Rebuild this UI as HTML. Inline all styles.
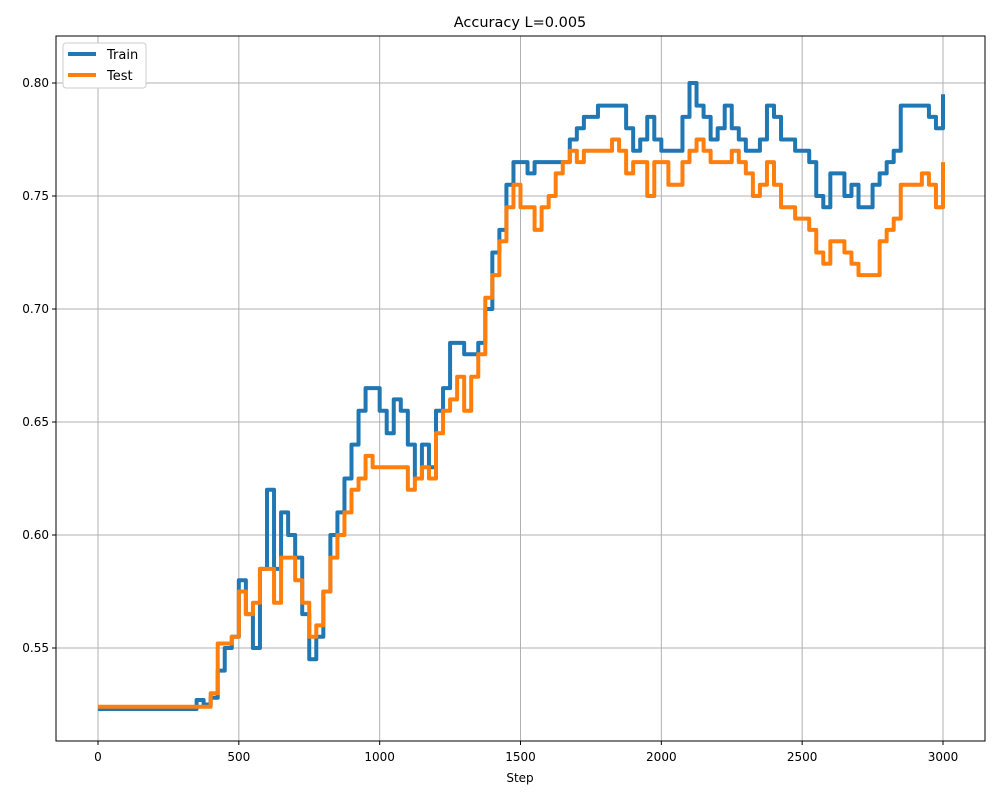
<!DOCTYPE html>
<html><head><meta charset="utf-8"><style>
body{margin:0;background:#fff;font-family:"Liberation Sans",sans-serif}
svg text{font-family:"DejaVu Sans","Liberation Sans",sans-serif}
</style></head><body>
<svg id="chart" width="1000" height="800" viewBox="0 0 1000 800" xmlns="http://www.w3.org/2000/svg">
<rect width="1000" height="800" fill="#fff"/>
<text x="520" y="27" font-size="14.5" text-anchor="middle">Accuracy L=0.005</text>
<g id="grid"></g>
<g id="series"></g>
<rect x="56" y="36" width="929" height="705" fill="none" stroke="#000" stroke-width="1"/>
<g id="ticks"></g>
<text x="520" y="782" font-size="12" text-anchor="middle">Step</text>
<g>
<rect x="63" y="43" width="83" height="45" fill="#fff" stroke="#ccc" rx="3"/>
<line x1="68" y1="54" x2="96" y2="54" stroke="#1f77b4" stroke-width="4"/>
<text x="107" y="59" font-size="13">Train</text>
<line x1="68" y1="75" x2="96" y2="75" stroke="#ff7f0e" stroke-width="4"/>
<text x="107" y="80" font-size="13">Test</text>
</g>
</svg>
<script>
const steps=[];for(let s=0;s<=3000;s+=25)steps.push(s);
const trainValues=[0.523,0.523,0.523,0.523,0.523,0.523,0.523,0.523,0.523,0.523,0.523,0.523,0.523,0.523,0.527,0.525,0.528,0.54,0.55,0.555,0.58,0.565,0.55,0.585,0.62,0.585,0.61,0.60,0.59,0.565,0.545,0.555,0.575,0.60,0.61,0.625,0.64,0.655,0.665,0.665,0.655,0.645,0.66,0.655,0.64,0.625,0.64,0.63,0.655,0.665,0.685,0.685,0.68,0.68,0.685,0.70,0.725,0.735,0.755,0.765,0.765,0.76,0.765,0.765,0.765,0.765,0.765,0.775,0.78,0.785,0.785,0.79,0.79,0.79,0.79,0.78,0.77,0.775,0.785,0.775,0.77,0.77,0.77,0.785,0.80,0.79,0.785,0.775,0.78,0.79,0.78,0.775,0.77,0.77,0.775,0.79,0.785,0.775,0.775,0.77,0.77,0.765,0.75,0.745,0.76,0.76,0.75,0.755,0.745,0.745,0.755,0.76,0.765,0.77,0.79,0.79,0.79,0.79,0.785,0.78,0.795];
const testValues=[0.524,0.524,0.524,0.524,0.524,0.524,0.524,0.524,0.524,0.524,0.524,0.524,0.524,0.524,0.524,0.524,0.53,0.552,0.552,0.555,0.575,0.565,0.57,0.585,0.585,0.57,0.59,0.59,0.58,0.57,0.555,0.56,0.575,0.59,0.60,0.61,0.62,0.625,0.635,0.63,0.63,0.63,0.63,0.63,0.62,0.625,0.63,0.625,0.645,0.655,0.66,0.67,0.655,0.67,0.68,0.705,0.715,0.73,0.745,0.755,0.745,0.745,0.735,0.745,0.75,0.76,0.765,0.77,0.765,0.77,0.77,0.77,0.77,0.775,0.77,0.76,0.765,0.765,0.75,0.765,0.765,0.755,0.755,0.765,0.77,0.775,0.77,0.765,0.765,0.765,0.77,0.765,0.76,0.75,0.755,0.765,0.755,0.745,0.745,0.74,0.74,0.735,0.725,0.72,0.73,0.73,0.725,0.72,0.715,0.715,0.715,0.73,0.735,0.74,0.755,0.755,0.755,0.76,0.755,0.745,0.765];
const xTicks=[0,500,1000,1500,2000,2500,3000];
const yTicks=[0.55,0.60,0.65,0.70,0.75,0.80];
const yTickLabels=["0.55","0.60","0.65","0.70","0.75","0.80"];
const X=v=>98+v*(845/3000);
const Y=v=>83+(0.80-v)*2260;
const NS="http://www.w3.org/2000/svg";
const grid=document.getElementById('grid'),ticks=document.getElementById('ticks'),ser=document.getElementById('series');
function mk(tag,attrs,parent){const e=document.createElementNS(NS,tag);for(const k in attrs)e.setAttribute(k,attrs[k]);parent.appendChild(e);return e;}
xTicks.forEach(t=>{
 const g=mk('line',{x1:X(t),x2:X(t),y1:36,y2:741,stroke:'#b0b0b0','stroke-width':1},grid);
 
 
 mk('line',{x1:X(t),x2:X(t),y1:741,y2:745,stroke:'#000'},ticks);
 const tx=mk('text',{x:X(t),y:761,'font-size':12,'text-anchor':'middle'},ticks);tx.textContent=t;
 
 
});
yTicks.forEach((t,i)=>{
 const g=mk('line',{x1:56,x2:985,y1:Y(t),y2:Y(t),stroke:'#b0b0b0','stroke-width':1},grid);
 
 
 mk('line',{x1:52,x2:56,y1:Y(t),y2:Y(t),stroke:'#000'},ticks);
 const tx=mk('text',{x:49,y:Y(t)+4,'font-size':12,'text-anchor':'end'},ticks);tx.textContent=yTickLabels[i];
 
 
});
function path(vals,color,name){
 let d='';vals.forEach((v,i)=>{const x=X(steps[i]),y=Y(v);if(i===0)d+='M'+x+','+y;else d+='H'+x+'V'+y;});
 const p=mk('path',{d:d,fill:'none',stroke:color,'stroke-width':4,'stroke-linejoin':'round'},ser);
 
 
}
path(trainValues,'#1f77b4','train-line');
path(testValues,'#ff7f0e','test-line');
</script>
</body></html>
